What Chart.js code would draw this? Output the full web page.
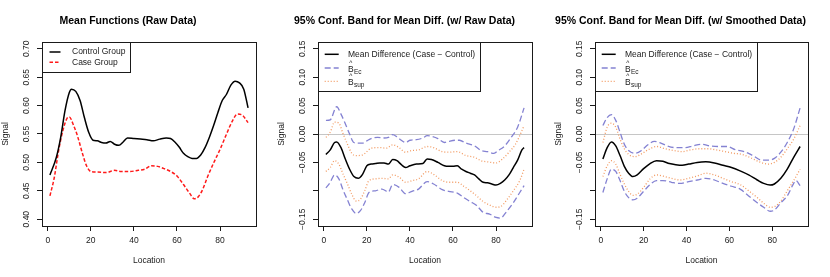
<!DOCTYPE html>
<html>
<head>
<meta charset="utf-8">
<script src="https://cdn.jsdelivr.net/npm/chart.js@4.4.0/dist/chart.umd.min.js"></script>
<style>
  body { margin: 0; background: #fff; }
  canvas { position: absolute; top: 0; }
</style>
</head>
<body>
<canvas id="c1" width="277" height="277" style="left:0px"></canvas>
<canvas id="c2" width="276" height="277" style="left:277px"></canvas>
<canvas id="c3" width="277" height="277" style="left:553px"></canvas>
<script>
// ---- data: [location, value] ----
const controlGroup = [[1,.478],[4,.509],[6,.544],[8,.591],[10,.623],[11,.629],[13,.625],[15,.609],[17,.579],[19,.553],[21,.539],[23,.538],[25,.535],[27,.534],[29,.537],[31,.532],[33,.530],[35,.536],[37,.543],[40,.542],[43,.541],[46,.540],[49,.538],[52,.541],[55,.543],[57,.542],[59,.536],[61,.527],[63,.516],[65,.510],[67,.507],[69,.507],[71,.513],[73,.526],[75,.544],[77,.565],[79,.588],[81,.609],[83,.620],[85,.636],[87,.643],[89,.640],[91,.629],[93,.596]];
const caseGroup = [[1,.441],[3,.473],[5,.520],[7,.556],[9,.578],[10,.580],[12,.565],[14,.544],[16,.517],[18,.494],[20,.484],[23,.483],[27,.482],[31,.486],[34,.484],[38,.484],[42,.486],[45,.488],[48,.494],[51,.493],[54,.489],[57,.484],[60,.476],[63,.461],[66,.445],[68,.436],[70,.440],[72,.453],[74,.473],[77,.499],[80,.523],[83,.550],[86,.575],[88,.585],[90,.584],[93,.570]];

// raw data band
const rawMean = [[1,-.036],[3,-.028],[5,-.015],[6,-.014],[8,-.024],[10,-.044],[12,-.062],[14,-.075],[16,-.078],[18,-.071],[20,-.056],[22,-.053],[24,-.052],[26,-.051],[28,-.051],[30,-.053],[32,-.045],[34,-.047],[36,-.054],[38,-.059],[40,-.056],[43,-.053],[46,-.052],[48,-.044],[50,-.045],[53,-.050],[56,-.056],[58,-.057],[60,-.057],[62,-.056],[64,-.062],[66,-.066],[68,-.069],[70,-.072],[72,-.079],[74,-.085],[76,-.086],[78,-.088],[80,-.090],[82,-.087],[84,-.081],[86,-.072],[88,-.059],[90,-.046],[92,-.028],[93,-.024]];
const rawEcUpper = [[1,.024],[3,.025],[6,.048],[8,.035],[10,.018],[12,.000],[14,-.015],[16,-.016],[18,-.016],[20,-.012],[22,-.008],[25,-.006],[28,-.007],[30,-.006],[32,-.001],[34,-.005],[36,-.011],[38,-.015],[40,-.011],[43,-.010],[46,-.007],[48,-.003],[50,-.004],[53,-.008],[56,-.015],[58,-.013],[61,-.011],[63,-.011],[66,-.016],[70,-.021],[73,-.029],[76,-.031],[79,-.034],[81,-.029],[84,-.021],[87,-.006],[90,.012],[93,.046]];
const rawEcLower = [[1,-.095],[3,-.085],[5,-.072],[7,-.079],[9,-.099],[11,-.116],[13,-.132],[15,-.140],[17,-.135],[19,-.121],[21,-.103],[24,-.100],[27,-.097],[30,-.102],[32,-.089],[35,-.094],[38,-.105],[41,-.101],[44,-.097],[48,-.084],[51,-.088],[55,-.098],[58,-.101],[62,-.104],[65,-.112],[68,-.119],[71,-.126],[74,-.138],[77,-.141],[80,-.147],[82,-.148],[85,-.136],[88,-.121],[91,-.103],[93,-.091]];
const rawSupUpper = [[1,-.006],[3,.003],[5,.021],[7,.019],[9,.000],[11,-.018],[13,-.034],[15,-.038],[18,-.037],[20,-.031],[22,-.025],[26,-.024],[29,-.025],[32,-.019],[35,-.024],[38,-.032],[41,-.029],[44,-.028],[48,-.022],[51,-.024],[55,-.031],[58,-.032],[62,-.031],[66,-.038],[70,-.041],[73,-.047],[76,-.049],[80,-.051],[83,-.044],[86,-.032],[89,-.018],[92,.006],[93,.015]];
const rawSupLower = [[1,-.066],[3,-.059],[5,-.047],[7,-.053],[9,-.071],[11,-.088],[13,-.106],[15,-.118],[17,-.115],[19,-.100],[21,-.082],[24,-.079],[27,-.078],[30,-.079],[32,-.072],[35,-.076],[38,-.085],[41,-.082],[44,-.079],[48,-.066],[51,-.071],[55,-.082],[58,-.085],[62,-.085],[65,-.092],[68,-.100],[71,-.109],[74,-.119],[77,-.125],[80,-.129],[82,-.128],[85,-.116],[88,-.100],[91,-.082],[93,-.062]];

// smoothed data band
const smMean = [[1,-.044],[3,-.024],[5,-.014],[7,-.021],[9,-.038],[11,-.057],[13,-.069],[15,-.075],[17,-.072],[20,-.061],[23,-.052],[26,-.047],[29,-.048],[32,-.052],[35,-.054],[38,-.055],[41,-.053],[45,-.050],[49,-.049],[53,-.051],[57,-.055],[61,-.059],[65,-.065],[69,-.072],[73,-.081],[76,-.087],[79,-.090],[81,-.088],[84,-.078],[87,-.062],[90,-.041],[93,-.022]];
const smEcUpper = [[1,.015],[3,.029],[5,.034],[7,.024],[9,.003],[11,-.018],[13,-.029],[16,-.034],[19,-.029],[22,-.019],[25,-.013],[28,-.016],[31,-.021],[35,-.024],[39,-.024],[43,-.021],[47,-.018],[51,-.021],[55,-.022],[59,-.022],[63,-.028],[67,-.031],[71,-.038],[75,-.046],[78,-.046],[81,-.043],[84,-.032],[87,-.015],[90,.009],[93,.046]];
const smEcLower = [[1,-.103],[3,-.079],[5,-.062],[7,-.066],[9,-.082],[11,-.101],[13,-.112],[15,-.116],[17,-.113],[20,-.101],[23,-.089],[26,-.082],[29,-.082],[33,-.085],[37,-.087],[41,-.084],[45,-.081],[49,-.078],[53,-.081],[57,-.087],[61,-.092],[65,-.097],[69,-.109],[73,-.121],[76,-.129],[79,-.136],[81,-.134],[84,-.121],[87,-.109],[90,-.087],[91,-.082],[93,-.091]];
const smSupUpper = [[1,-.015],[3,.012],[5,.019],[7,.012],[9,-.009],[11,-.026],[13,-.036],[16,-.040],[19,-.035],[22,-.028],[26,-.022],[30,-.026],[34,-.029],[38,-.031],[42,-.028],[46,-.026],[50,-.026],[54,-.028],[58,-.031],[62,-.034],[66,-.036],[70,-.042],[74,-.049],[78,-.053],[81,-.050],[84,-.041],[87,-.026],[90,-.009],[93,.015]];
const smSupLower = [[1,-.075],[3,-.056],[5,-.047],[7,-.053],[9,-.071],[11,-.088],[13,-.101],[15,-.108],[17,-.106],[20,-.094],[23,-.079],[26,-.072],[29,-.074],[33,-.078],[37,-.081],[41,-.078],[45,-.074],[49,-.069],[53,-.072],[57,-.078],[61,-.084],[65,-.089],[69,-.100],[73,-.112],[76,-.122],[79,-.129],[81,-.128],[84,-.118],[87,-.100],[90,-.082],[93,-.062]];

// ticks and labels
const xTicks = [0, 20, 40, 60, 80];
const xTickLabels = ['0', '20', '40', '60', '80'];
const meanYTicks = [0.40, 0.45, 0.50, 0.55, 0.60, 0.65, 0.70];
const meanYLabels = ['0.40', '0.45', '0.50', '0.55', '0.60', '0.65', '0.70'];
const diffYTicks = [-0.15, -0.10, -0.05, 0.00, 0.05, 0.10, 0.15];
const diffYLabels = ['\u22120.15', '', '\u22120.05', '0.00', '0.05', '0.10', '0.15'];

const titles = ['Mean Functions (Raw Data)', '95% Conf. Band for Mean Diff. (w/ Raw Data)', '95% Conf. Band for Mean Diff. (w/ Smoothed Data)'];
const meanLegend = ['Control Group', 'Case Group'];
const bandLegend = ['Mean Difference (Case \u2212 Control)', 'B', 'B'];
const bandLegendSub = ['', 'Ec', 'sup'];

const FONT_FAMILY = '"Liberation Sans", Arial, Helvetica, sans-serif';
const INK = '#1a1a1a';
const EC_COLOR = '#8482d2';
const SUP_COLOR = '#f29a62';

// draws R-style frame, rotated y labels, axis titles, zero line and legend
const rFrame = {
  id: 'rFrame',
  beforeDatasetsDraw(chart, args, opts) {
    if (opts.refLine === undefined) return;
    const { ctx, chartArea: a } = chart;
    const y = Math.round(chart.scales.y.getPixelForValue(opts.refLine)) + 0.5;
    ctx.save();
    ctx.strokeStyle = '#c6c6c6';
    ctx.lineWidth = 1;
    ctx.beginPath();
    ctx.moveTo(a.left, y);
    ctx.lineTo(a.right, y);
    ctx.stroke();
    ctx.restore();
  },
  afterDraw(chart, args, opts) {
    const { ctx, chartArea: a } = chart;
    const ys = chart.scales.y;
    ctx.save();
    ctx.strokeStyle = INK;
    ctx.lineWidth = 1;
    ctx.strokeRect(Math.round(a.left) + 0.5, Math.round(a.top) + 0.5,
      Math.round(a.right - a.left), Math.round(a.bottom - a.top));

    ctx.fillStyle = INK;
    ctx.font = '8.5px ' + FONT_FAMILY;
    ctx.textAlign = 'center';
    ctx.textBaseline = 'middle';
    opts.yTicks.forEach((v, i) => {
      if (!opts.yLabels[i]) return;
      ctx.save();
      ctx.translate(a.left - 15, ys.getPixelForValue(v));
      ctx.rotate(-Math.PI / 2);
      ctx.fillText(opts.yLabels[i], 0, 0);
      ctx.restore();
    });
    ctx.fillText('Location', (a.left + a.right) / 2, 261);
    ctx.save();
    ctx.translate(a.left - 36, (a.top + a.bottom) / 2);
    ctx.rotate(-Math.PI / 2);
    ctx.fillText('Signal', 0, 0);
    ctx.restore();

    // legend
    const L = opts.legend;
    ctx.strokeRect(Math.round(a.left) + 0.5, Math.round(a.top) + 0.5, L.w, L.h);
    L.labels.forEach((label, i) => {
      const ds = chart.data.datasets[L.ds[i]];
      const y = a.top + L.rows[i];
      ctx.save();
      ctx.strokeStyle = ds.borderColor;
      ctx.lineWidth = ds.borderWidth;
      ctx.setLineDash(ds.borderDash || []);
      ctx.beginPath();
      ctx.moveTo(a.left + L.x0, y);
      ctx.lineTo(a.left + L.x1, y);
      ctx.stroke();
      ctx.restore();
      ctx.textAlign = 'left';
      const sub = L.subs ? L.subs[i] : '';
      if (!sub) {
        ctx.font = '8.5px ' + FONT_FAMILY;
        ctx.fillText(label, a.left + L.tx, y);
      } else {
        const by = y + 1.3;
        ctx.font = '8.5px ' + FONT_FAMILY;
        ctx.fillText(label, a.left + L.tx, by);
        const bw = ctx.measureText(label).width;
        ctx.textAlign = 'center';
        ctx.font = '6.5px ' + FONT_FAMILY;
        ctx.fillText('^', a.left + L.tx + bw / 2, by - 6);
        ctx.textAlign = 'left';
        ctx.fillText(sub, a.left + L.tx + bw + 0.3, by + 2.8);
      }
    });
    ctx.restore();
  }
};

function line(data, color, width, dash) {
  return {
    data: data.map(p => ({ x: p[0], y: p[1] })),
    borderColor: color,
    borderWidth: width,
    borderDash: dash,
    pointRadius: 0,
    fill: false,
    cubicInterpolationMode: 'monotone'
  };
}

function makeChart(id, title, datasets, yMin, yMax, yTicks, yLabels, yWidth, padRight, legend, refLine) {
  return new Chart(document.getElementById(id), {
    type: 'line',
    data: { datasets },
    plugins: [rFrame],
    options: {
      responsive: false,
      animation: false,
      events: [],
      layout: { padding: { left: 0, right: padRight, top: 0, bottom: 0 } },
      plugins: {
        legend: { display: false },
        tooltip: { enabled: false },
        title: {
          display: true,
          text: title,
          color: '#000',
          font: { family: FONT_FAMILY, size: 10.5, weight: 'bold', lineHeight: 1 },
          padding: { top: 16, bottom: 15.5 }
        },
        rFrame: { yTicks, yLabels, legend, refLine }
      },
      scales: {
        x: {
          type: 'linear',
          min: -2.68,
          max: 96.68,
          afterBuildTicks: s => { s.ticks = xTicks.map(v => ({ value: v })); },
          afterFit: s => { s.height = 51; },
          border: { display: false },
          grid: { drawOnChartArea: false, drawTicks: true, tickLength: 5, color: INK, lineWidth: 1 },
          ticks: {
            color: INK,
            padding: 4.5,
            maxRotation: 0,
            autoSkip: false,
            font: { family: FONT_FAMILY, size: 8.5 },
            callback: (v, i) => xTickLabels[i]
          }
        },
        y: {
          type: 'linear',
          min: yMin,
          max: yMax,
          afterBuildTicks: s => { s.ticks = yTicks.map(v => ({ value: v })); },
          afterFit: s => { s.width = yWidth; },
          border: { display: false },
          grid: { drawOnChartArea: false, drawTicks: true, tickLength: 5, color: INK, lineWidth: 1 },
          ticks: { display: false }
        }
      }
    }
  });
}

makeChart('c1', titles[0], [
  line(controlGroup, '#000', 1.5),
  line(caseGroup, '#ff1a1a', 1.5, [3.5, 2])
], 0.388, 0.712, meanYTicks, meanYLabels, 42, 21,
  { w: 88, h: 30, rows: [10, 20.3], x0: 7.5, x1: 18.5, tx: 30, labels: meanLegend, ds: [0, 1] });

function bandSets(mean, ecU, ecL, supU, supL) {
  return [
    line(mean, '#000', 1.5),
    line(ecU, EC_COLOR, 1.3, [6, 3]),
    line(supU, SUP_COLOR, 1.3, [1, 2]),
    line(ecL, EC_COLOR, 1.3, [6, 3]),
    line(supL, SUP_COLOR, 1.3, [1, 2])
  ];
}
const bandLegendBox = { w: 162, h: 49, rows: [12.3, 26, 39.3], x0: 6.7, x1: 20.7, tx: 30, labels: bandLegend, subs: bandLegendSub, ds: [0, 1, 2] };

makeChart('c2', titles[1], bandSets(rawMean, rawEcUpper, rawEcLower, rawSupUpper, rawSupLower),
  -0.162, 0.162, diffYTicks, diffYLabels, 41, 21, bandLegendBox, 0);
makeChart('c3', titles[2], bandSets(smMean, smEcUpper, smEcLower, smSupUpper, smSupLower),
  -0.162, 0.162, diffYTicks, diffYLabels, 42, 22, bandLegendBox, 0);
</script>
</body>
</html>
